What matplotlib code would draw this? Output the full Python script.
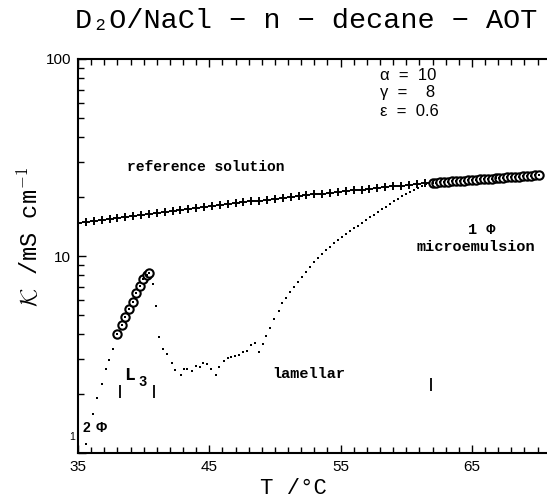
import matplotlib
matplotlib.use('Agg')
import matplotlib.pyplot as plt
from matplotlib.ticker import FixedLocator, MultipleLocator, FixedFormatter, NullFormatter

plt.rcParams['mathtext.fontset'] = 'cm'
mono = ['Liberation Mono', 'DejaVu Sans Mono']
sans = ['Liberation Sans', 'DejaVu Sans']

# measured conductivity (small dots)
T_meas = [35.61, 36.17, 36.47, 36.83, 37.13, 37.34, 37.64,
          40.69, 40.94, 41.19, 41.45, 41.76, 42.16, 42.41, 42.82, 43.07, 43.32,
          43.66, 43.99, 44.29, 44.54, 44.85, 45.15, 45.51, 45.72, 46.12, 46.42,
          46.68, 46.98, 47.24, 47.59, 47.85, 48.15, 48.46, 48.81, 49.11, 49.32,
          49.62, 49.93, 50.29, 50.54, 50.84, 51.15, 51.45, 51.76, 52.06, 52.36,
          52.67, 52.97, 53.28, 53.58, 53.89, 54.19, 54.50, 54.80, 55.11, 55.41,
          55.72, 56.02, 56.33, 56.63, 56.93, 57.24, 57.54, 57.85, 58.15, 58.46,
          58.76, 59.07, 59.37, 59.68, 59.98, 60.29, 60.59, 60.89, 61.20, 61.50,
          61.73]
K_meas = [1.11, 1.57, 1.90, 2.24, 2.66, 2.97, 3.36,
          7.18, 5.57, 3.89, 3.36, 3.18, 2.87, 2.64, 2.48, 2.66, 2.66,
          2.62, 2.77, 2.74, 2.87, 2.83, 2.68, 2.49, 2.74, 2.93, 3.03,
          3.06, 3.11, 3.14, 3.27, 3.31, 3.53, 3.60, 3.27, 3.58, 3.93,
          4.30, 4.77, 5.28, 5.75, 6.12, 6.57, 6.96, 7.38, 7.82, 8.29,
          8.80, 9.27, 9.77, 10.24, 10.73, 11.17, 11.64, 12.05, 12.49, 12.93,
          13.39, 13.87, 14.28, 14.71, 15.23, 15.78, 16.24, 16.82, 17.32, 17.83,
          18.36, 18.91, 19.47, 20.05, 20.64, 21.13, 21.63, 22.15, 22.67, 23.20,
          23.48]

# L3 phase (open circles)
T_L3 = [37.95, 38.33, 38.58, 38.91, 39.17, 39.42, 39.72, 39.97, 40.23, 40.38]
K_L3 = [4.02, 4.46, 4.89, 5.36, 5.86, 6.47, 7.04, 7.62, 8.01, 8.23]

# 1-phase microemulsion (open circles)
T_mic = [62.0, 62.3, 62.6, 62.9, 63.2, 63.5, 63.8, 64.1, 64.4, 64.7, 65.0, 65.3,
         65.6, 65.9, 66.2, 66.5, 66.8, 67.1, 67.4, 67.7, 68.0, 68.3, 68.6, 68.9,
         69.2, 69.5, 69.8, 70.1]
K_mic = [23.50, 23.58, 23.66, 23.74, 23.82, 23.90, 23.98, 24.06, 24.14, 24.22,
         24.30, 24.38, 24.46, 24.54, 24.62, 24.71, 24.79, 24.87, 24.96, 25.04,
         25.12, 25.21, 25.29, 25.38, 25.46, 25.55, 25.63, 25.72]

# reference solution (+)
T_ref = [35.0, 35.6, 36.2, 36.8, 37.4, 38.0, 38.6, 39.2, 39.8, 40.4, 41.0, 41.6,
         42.2, 42.8, 43.4, 44.0, 44.6, 45.2, 45.8, 46.4, 47.0, 47.6, 48.2, 48.8,
         49.4, 50.0, 50.6, 51.2, 51.8, 52.4, 53.0, 53.6, 54.2, 54.8, 55.4, 56.0,
         56.6, 57.2, 57.8, 58.4, 59.0, 59.6, 60.2, 60.8, 61.4]
K_ref = [14.71, 14.89, 15.07, 15.26, 15.44, 15.63, 15.81, 16.00, 16.19, 16.38,
         16.57, 16.77, 16.96, 17.15, 17.35, 17.54, 17.74, 17.93, 18.13, 18.33,
         18.53, 18.72, 18.92, 19.12, 19.32, 19.52, 19.72, 19.92, 20.12, 20.33,
         20.53, 20.73, 20.94, 21.14, 21.34, 21.55, 21.75, 21.95, 22.16, 22.36,
         22.57, 22.77, 22.97, 23.18, 23.38]

# phase boundaries (vertical bars)
T_bound = [38.20, 40.79, 61.89]
K_bound_lo = [1.90, 1.90, 2.06]
K_bound_hi = [2.21, 2.21, 2.40]

W, H = 547, 500
def fx(x):
    return x / W
def fy(y):
    return 1 - y / H

fig = plt.figure(figsize=(5.47, 5.0), dpi=100)
ax = fig.add_axes([fx(78), fy(453), 1 - fx(78), fy(59) - fy(453)])
ax.set_yscale('log')
ax.set_xlim(35, 70.72)
ax.set_ylim(1, 100)

ax.plot(T_meas, K_meas, 's', color='black', ms=2.0, mew=0)
ax.plot(T_ref, K_ref, '+', color='black', ms=5.5, mew=1.4)
for T, K in [(T_L3, K_L3), (T_mic, K_mic)]:
    ax.plot(T, K, 'o', mfc='white', mec='black', ms=6, mew=1.5)
    ax.plot(T, K, 's', color='black', ms=1.6, mew=0)
ax.vlines(T_bound, K_bound_lo, K_bound_hi, color='black', lw=1.3)

for s in ['left', 'bottom', 'top']:
    ax.spines[s].set_linewidth(1.5)
ax.spines['right'].set_visible(False)

ax.xaxis.set_major_locator(FixedLocator([35, 45, 55, 65]))
ax.xaxis.set_minor_locator(MultipleLocator(1))
ax.yaxis.set_major_locator(FixedLocator([1, 10, 100]))
ax.yaxis.set_major_formatter(FixedFormatter(['', '10', '100']))
ax.yaxis.set_minor_formatter(NullFormatter())
ax.tick_params(which='both', direction='in', top=True, right=False, width=1.0,
               labelsize=11, labelfontfamily='Liberation Sans')
ax.tick_params(which='major', length=6, pad=5)
ax.tick_params(which='minor', length=4)

fig.text(fx(72), fy(437), '1', fontsize=7.5, family=sans, ha='center', va='center')

fig.text(fx(306), fy(21), 'D\u2082O/NaCl \u2212 n \u2212 decane \u2212 AOT',
         fontsize=20.5, family=mono, ha='center', va='center')
fig.text(fx(30), fy(237), r'$\mathcal{K}$ /mS cm$^{-1}$', fontsize=17, family=mono,
         rotation=90, ha='center', va='center')
fig.text(fx(293), fy(489), 'T /\u00b0C', fontsize=16, family=mono,
         ha='center', va='center')

fig.text(fx(380), fy(75), '\u03b1  =  10', fontsize=12, family=sans, va='center')
fig.text(fx(380), fy(93), '\u03b3  =    8', fontsize=12, family=sans, va='center')
fig.text(fx(380), fy(112), '\u03b5  =  0.6', fontsize=12, family=sans, va='center')

fig.text(fx(206), fy(167), 'reference solution', fontsize=10.5, family=mono,
         weight='bold', ha='center', va='center')
fig.text(fx(482), fy(230), '1 \u03a6', fontsize=11, family=mono, weight='bold',
         ha='center', va='center')
fig.text(fx(476), fy(247), 'microemulsion', fontsize=11, family=mono, weight='bold',
         ha='center', va='center')
fig.text(fx(309), fy(374), 'lamellar', fontsize=11, family=mono, weight='bold',
         ha='center', va='center')
fig.text(fx(129), fy(375), 'L', fontsize=13, family=mono, weight='bold',
         ha='center', va='center')
fig.text(fx(143), fy(382), '3', fontsize=10, family=mono, weight='bold',
         ha='center', va='center')
fig.text(fx(86), fy(428), '2', fontsize=10, family=sans, weight='bold',
         ha='center', va='center')
fig.text(fx(101), fy(428), '\u03a6', fontsize=10, family=sans, weight='bold',
         ha='center', va='center')

fig.savefig('out.png', dpi=100)
